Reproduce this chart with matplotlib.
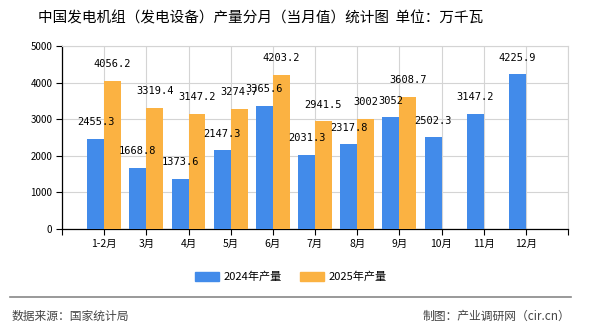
import matplotlib.pyplot as plt
from matplotlib.patches import Patch
import numpy as np

plt.rcParams['font.family'] = ['Noto Sans CJK SC', 'DejaVu Sans']
plt.rcParams['axes.unicode_minus'] = False

# 数据
months = ['1-2月', '3月', '4月', '5月', '6月', '7月', '8月', '9月', '10月', '11月', '12月']
vals_2024 = [2455.3, 1668.8, 1373.6, 2147.3, 3365.6, 2031.3, 2317.8, 3052, 2502.3, 3147.2, 4225.9]
vals_2025 = [4056.2, 3319.4, 3147.2, 3274.7, 4203.2, 2941.5, 3002, 3608.7]
yticks = [0, 1000, 2000, 3000, 4000, 5000]

c_2024 = '#428BEA'
c_2025 = '#FBB242'

fig = plt.figure(figsize=(5.9, 3.3), dpi=100)
ax = fig.add_axes([62 / 590, 1 - 229 / 330, 506 / 590, 183 / 330])

x = np.arange(len(months))
w = 0.4
ax.bar(x[:len(vals_2024)] - w / 2, vals_2024, width=w, color=c_2024, zorder=3)
ax.bar(x[:len(vals_2025)] + w / 2, vals_2025, width=w, color=c_2025, zorder=3)

def fmt(v):
    return f'{v:g}'

# 数值标签
for i, v in enumerate(vals_2024):
    ax.annotate(fmt(v), (i - w / 2, v), xytext=(0, 12), textcoords='offset points',
                ha='center', va='center', fontsize=7.5, family='DejaVu Sans Mono', zorder=4)
for i, v in enumerate(vals_2025):
    ax.annotate(fmt(v), (i + w / 2, v), xytext=(0, 12), textcoords='offset points',
                ha='center', va='center', fontsize=7.5, family='DejaVu Sans Mono', zorder=4)

ax.set_xlim(-1, len(months))
ax.set_ylim(0, 5000)
ax.set_yticks(yticks)
ax.set_yticklabels([str(t) for t in yticks], fontsize=7)
ax.set_xticks(list(range(-1, len(months) + 1)))
ax.set_xticklabels([''] + months + [''], fontsize=7.5)
ax.tick_params(axis='both', direction='out', length=4, width=0.8, color='black', pad=3)

ax.grid(True, color='#d4d4d4', lw=0.8, zorder=0)
for s in ['top', 'right']:
    ax.spines[s].set_color('#d4d4d4')
for s in ['left', 'bottom']:
    ax.spines[s].set_color('black')
    ax.spines[s].set_linewidth(0.9)

# 标题
fig.text(261 / 590, 1 - 18 / 330, '中国发电机组（发电设备）产量分月（当月值）统计图  单位：万千瓦',
         ha='center', va='center', fontsize=10.5)

# 图例
handles = [Patch(color=c_2024), Patch(color=c_2025)]
fig.legend(handles, ['2024年产量', '2025年产量'], loc='center', bbox_to_anchor=(291 / 590, 1 - 277 / 330),
           ncol=2, frameon=False, fontsize=8, handlelength=2.2, handleheight=0.8,
           handletextpad=0.4, columnspacing=1.6)

# 底部
fig.add_artist(plt.Line2D([10 / 590, 571 / 590], [1 - 297 / 330] * 2, color='#888888', lw=1.2,
                          transform=fig.transFigure))
fig.text(12 / 590, 1 - 316 / 330, '数据来源：国家统计局', ha='left', va='center', fontsize=8.5, color='#444444')
fig.text(570 / 590, 1 - 316 / 330, '制图：产业调研网（cir.cn）', ha='right', va='center', fontsize=8.5, color='#444444')

fig.savefig('out.png', dpi=100)
